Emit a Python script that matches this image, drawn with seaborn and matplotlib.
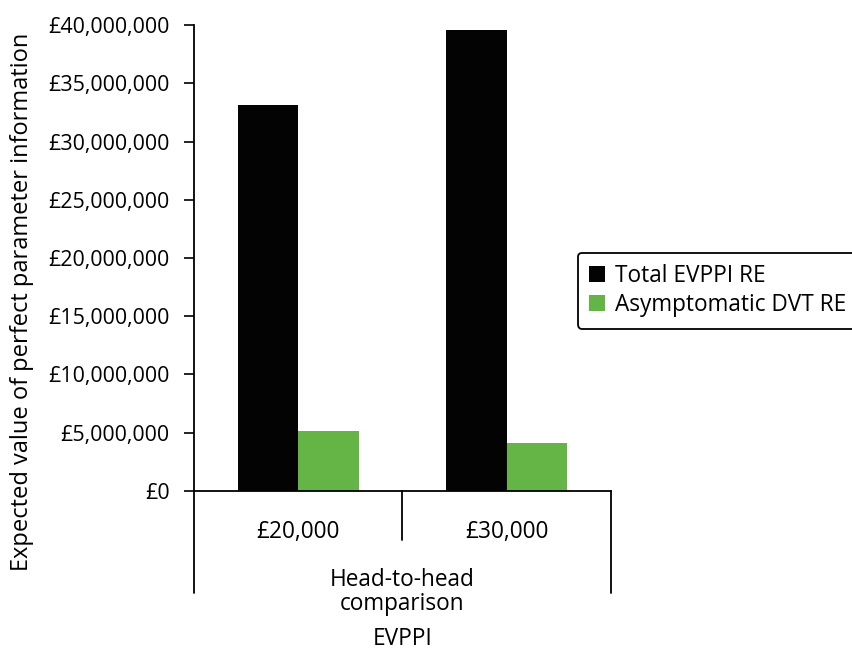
import matplotlib
matplotlib.use("Agg")
import matplotlib.pyplot as plt
import seaborn as sns
import pandas as pd

# Data
thresholds = ["£20,000", "£30,000"]
series_names = ["Total EVPPI RE", "Asymptomatic DVT RE"]
total_evppi = [33100000, 39550000]
asymptomatic_dvt = [5150000, 4120000]
ytick_values = [0, 5000000, 10000000, 15000000, 20000000, 25000000, 30000000, 35000000, 40000000]
ytick_labels = ["£0", "£5,000,000", "£10,000,000", "£15,000,000", "£20,000,000",
                "£25,000,000", "£30,000,000", "£35,000,000", "£40,000,000"]
group_label = "Head-to-head\ncomparison"
outer_label = "EVPPI"
y_title = "Expected value of perfect parameter information"
colors = ["#030303", "#65b446"]

df = pd.DataFrame({
    "threshold": thresholds * 2,
    "series": [series_names[0]] * 2 + [series_names[1]] * 2,
    "value": total_evppi + asymptomatic_dvt,
})

sns.set_style("white")
plt.rcParams["font.family"] = ["Open Sans", "DejaVu Sans"]
plt.rcParams["text.color"] = "black"
plt.rcParams["axes.labelcolor"] = "black"
plt.rcParams["xtick.color"] = "black"
plt.rcParams["ytick.color"] = "black"
FS_NUM = 15.4
FS_TXT = 16.3
FS_YLAB = 17.0

fig = plt.figure(figsize=(8.52, 6.53), dpi=100)
ax = fig.add_axes([0.2277, 0.2481, 0.4894, 0.7136])

sns.barplot(data=df, x="threshold", y="value", hue="series", order=thresholds,
            hue_order=series_names, palette=colors, width=0.58, saturation=1,
            edgecolor="none", linewidth=0, ax=ax)

ax.set_xlim(-0.5, 1.5)
ax.set_ylim(0, 40000000)
ax.set_yticks(ytick_values)
ax.set_yticklabels(ytick_labels, fontsize=FS_NUM)
ax.set_xticks(range(len(thresholds)))
ax.set_xticklabels(thresholds, fontsize=FS_TXT)
ax.tick_params(axis="y", direction="out", length=7.5, width=1.2, color="black",
               labelcolor="black", left=True, pad=10)
ax.tick_params(axis="x", length=0, pad=21, labelcolor="black")
for s in ["top", "right"]:
    ax.spines[s].set_visible(False)
for s in ["left", "bottom"]:
    ax.spines[s].set_color("black")
    ax.spines[s].set_linewidth(1.3)

ax.set_xlabel("")
ax.set_ylabel(y_title, fontsize=FS_YLAB, color="black")
ax.yaxis.set_label_coords(-0.383, 0.405)

# Multi-level category axis dividers
tr = ax.get_xaxis_transform()
ax.plot([-0.5, -0.5], [0, -0.219], transform=tr, color="black", lw=1.3, clip_on=False)
ax.plot([1.5, 1.5], [0, -0.219], transform=tr, color="black", lw=1.3, clip_on=False)
ax.plot([0.5, 0.5], [0, -0.105], transform=tr, color="black", lw=1.3, clip_on=False)
ax.text(0.5, -0.216, group_label, transform=tr, ha="center", va="center",
        fontsize=FS_TXT, linespacing=1.0, color="black")
ax.text(0.5, -0.318, outer_label, transform=tr, ha="center", va="center",
        fontsize=FS_TXT, color="black")

# Legend
leg = ax.legend(loc="upper left", bbox_to_anchor=(0.678, 0.6126),
                bbox_transform=fig.transFigure, fontsize=FS_TXT, frameon=True,
                fancybox=True, edgecolor="black", handlelength=0.7, handleheight=0.7,
                handletextpad=0.45, borderpad=0.5, labelspacing=0.22, borderaxespad=0)
leg.get_frame().set_linewidth(1.3)
leg.get_frame().set_alpha(1)
for t in leg.get_texts():
    t.set_color("black")

fig.savefig("out.png", dpi=100)
